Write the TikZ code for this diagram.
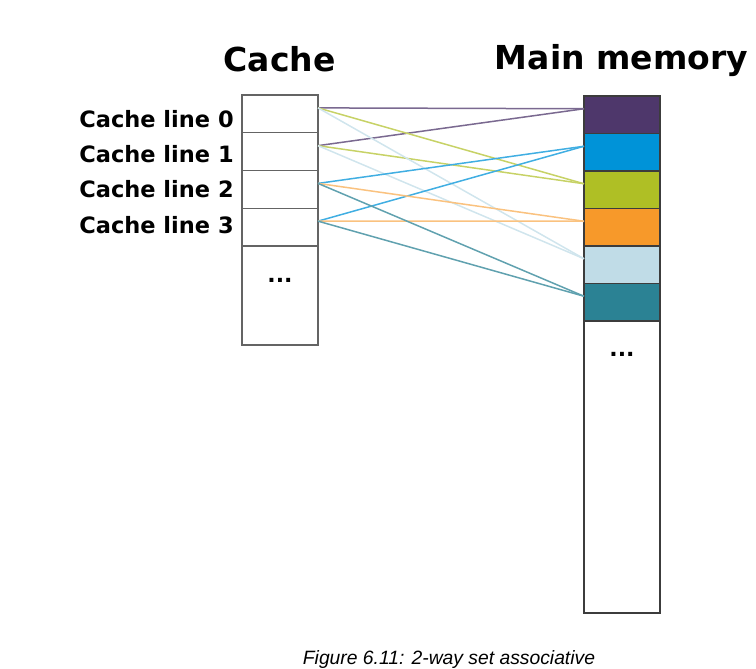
\documentclass[tikz,border=0pt]{standalone}
\usepackage{fontspec}
\setmainfont{DejaVu Sans}
\newfontfamily\capfont{Liberation Sans}
\usetikzlibrary{positioning}
\definecolor{memviolet}{RGB}{78,55,107}
\definecolor{memblue}{RGB}{0,147,216}
\definecolor{memgreen}{RGB}{175,191,37}
\definecolor{memorange}{RGB}{247,153,42}
\definecolor{memsky}{RGB}{192,220,231}
\definecolor{memteal}{RGB}{43,130,148}
\definecolor{cellgray}{RGB}{100,100,100}
\definecolor{memedge}{RGB}{60,60,60}

\begin{document}
\begin{tikzpicture}[x=1pt,y=-1pt,
 every node/.style={font=\bfseries},
 cell/.style={draw=cellgray,fill=white,line width=1.3pt,minimum width=76pt,minimum height=37.75pt,inner sep=0pt,outer sep=0pt},
 memcell/.style={cell,draw=memedge,minimum height=37.5pt},
 heading/.style={font=\fontsize{33}{38}\selectfont\bfseries,anchor=base},
 linelabel/.style={font=\fontsize{22.5}{27}\selectfont\bfseries,anchor=base},
 dots/.style={font=\fontsize{22}{26}\selectfont\bfseries,anchor=base,inner sep=0pt},
 link/.style={line width=1.5pt}
]
\useasboundingbox (0,0) rectangle (756,669);
% headings
\node[heading] (cachehead) at (279.5,71.5) {Cache};
\node[heading] (memhead) at (621.5,69.5) {Main memory};
% cache lines
\foreach \i in {0,...,3}
  \node[cell] (c\i) at (280,{113.9+37.75*\i}) {};
\node[cell,minimum height=99pt,below=0pt of c3] (crest) {};
\node[dots] (cdots) at ([yshift=-36.5pt]crest.north) {...};
\foreach \i in {0,...,3}
  \node[linelabel] (l\i) at (156.5,{127.5+35.2*\i}) {Cache line \i};
% main memory blocks
\foreach \col [count=\i from 0] in {memviolet,memblue,memgreen,memorange,memsky,memteal}
  \node[memcell,fill=\col] (m\i) at (622,{114.75+37.5*\i}) {};
\node[memcell,minimum height=292pt,below=0pt of m5] (mrest) {};
\node[dots] (mdots) at ([yshift=-35.8pt]mrest.north) {...};
% mapping
\foreach \c/\m/\col in {0/0/memviolet!75,1/0/memviolet!75,0/2/memgreen!70,1/2/memgreen!70,
  0/4/memsky!75,1/4/memsky!75,2/1/memblue!75,3/1/memblue!75,
  2/3/memorange!60,3/3/memorange!60,2/5/memteal!75,3/5/memteal!75}
  \draw[link,draw=\col] ([yshift=6pt]c\c.east) -- ([yshift=6pt]m\m.west);
% caption
\node[font=\capfont\itshape\fontsize{19.3}{22}\selectfont,anchor=base] (caption) at (449,664) {Figure 6.11: 2-way set associative};
\end{tikzpicture}
\end{document}
